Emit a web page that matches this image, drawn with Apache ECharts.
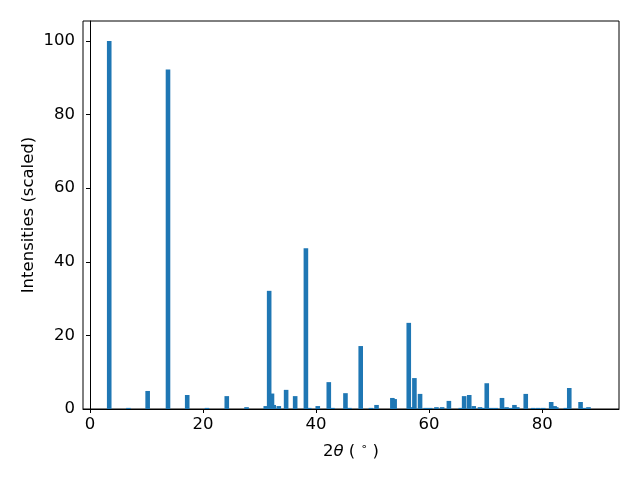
<!DOCTYPE html>
<html><head><meta charset="utf-8">
<script src="https://cdn.jsdelivr.net/npm/echarts@6/dist/echarts.min.js"></script>
<style>html,body{margin:0;padding:0;background:#fff}#c{width:640px;height:480px}</style>
</head><body><div id="c"></div>
<script>
const positions = [3.4, 6.8, 10.2, 13.8, 17.2, 20.7, 24.2, 27.7, 31.1, 31.7, 32.2, 32.5, 33.4, 34.7, 36.3, 38.2, 38.8, 40.3, 42.25, 42.9, 45.2, 45.9, 47.9, 49.7, 50.7, 53.5, 53.9, 56.4, 56.9, 57.4, 58.4, 59.4, 60.2, 61.3, 62.3, 63.5, 65.6, 66.2, 67.1, 67.9, 69.0, 69.5, 70.2, 71.0, 71.8, 72.9, 73.7, 74.5, 75.1, 75.6, 77.1, 78.4, 79.3, 80.2, 81.6, 82.2, 82.5, 84.2, 84.8, 86.8, 87.4, 88.2];
const intensities = [100, 0.3, 4.9, 92.2, 3.8, 0.3, 3.5, 0.5, 0.8, 32.1, 4.2, 1.1, 0.8, 5.2, 3.5, 43.7, 0.3, 0.8, 7.3, 0.3, 4.3, 0.3, 17.1, 0.3, 1.1, 3.0, 2.7, 23.4, 0.5, 8.4, 4.1, 0.3, 0.3, 0.5, 0.5, 2.2, 0.3, 3.5, 3.8, 0.8, 0.5, 0.3, 7.0, 0.3, 0.3, 3.0, 0.5, 0.3, 1.1, 0.5, 4.1, 0.3, 0.3, 0.3, 1.9, 0.8, 0.5, 0.3, 5.7, 1.9, 0.3, 0.5];
const xTicks = [0, 20, 40, 60, 80];
const yTicks = [0, 20, 40, 60, 80, 100];

const chart = echarts.init(document.getElementById('c'), null, {renderer: 'canvas'});
const font = 'DejaVu Sans';
const fs = 16.5;
const data = positions.map((p, i) => [p, intensities[i]]);
chart.setOption({
  animation: false,
  textStyle: {fontFamily: font},
  grid: {left: 83, right: 21, top: 21, bottom: 71, show: true, borderColor: '#000', borderWidth: 1, backgroundColor: 'transparent'},
  xAxis: {
    type: 'value', min: -1.24, max: 93.6,
    axisLine: {show: true, onZero: false, lineStyle: {color: '#000', width: 1}},
    axisTick: {show: true, length: 4, lineStyle: {color: '#000'}, customValues: xTicks},
    axisLabel: {color: '#000', fontSize: fs, fontFamily: font, margin: 7, customValues: xTicks},
    splitLine: {show: false},
    name: '{n|2}{i|θ}{n| ( }{s|∘}{n| )}',
    nameLocation: 'middle', nameGap: 33, nameMoveOverlap: false,
    nameTextStyle: {
      rich: {
        n: {fontSize: fs, fontFamily: font, color: '#000'},
        i: {fontSize: fs, fontFamily: font, fontStyle: 'italic', color: '#000'},
        s: {fontSize: 11, fontFamily: font, color: '#000', verticalAlign: 'top', padding: [0, 0, 8, 0]}
      }
    }
  },
  yAxis: {
    type: 'value', min: 0, max: 105.4, interval: 20,
    axisLine: {show: true, lineStyle: {color: '#000', width: 1}},
    axisTick: {show: true, length: 4, lineStyle: {color: '#000'}, customValues: yTicks},
    axisLabel: {color: '#000', fontSize: fs, fontFamily: font, margin: 8, customValues: yTicks},
    splitLine: {show: false},
    name: 'Intensities (scaled)', nameLocation: 'middle', nameGap: 46, nameMoveOverlap: false,
    nameTextStyle: {fontSize: fs, fontFamily: font, color: '#000'}
  },
  series: [{
    type: 'bar', data: data, barWidth: 4.6,
    itemStyle: {color: '#1f77b4'},
    barGap: '-100%'
  }]
});
</script>
</body></html>
